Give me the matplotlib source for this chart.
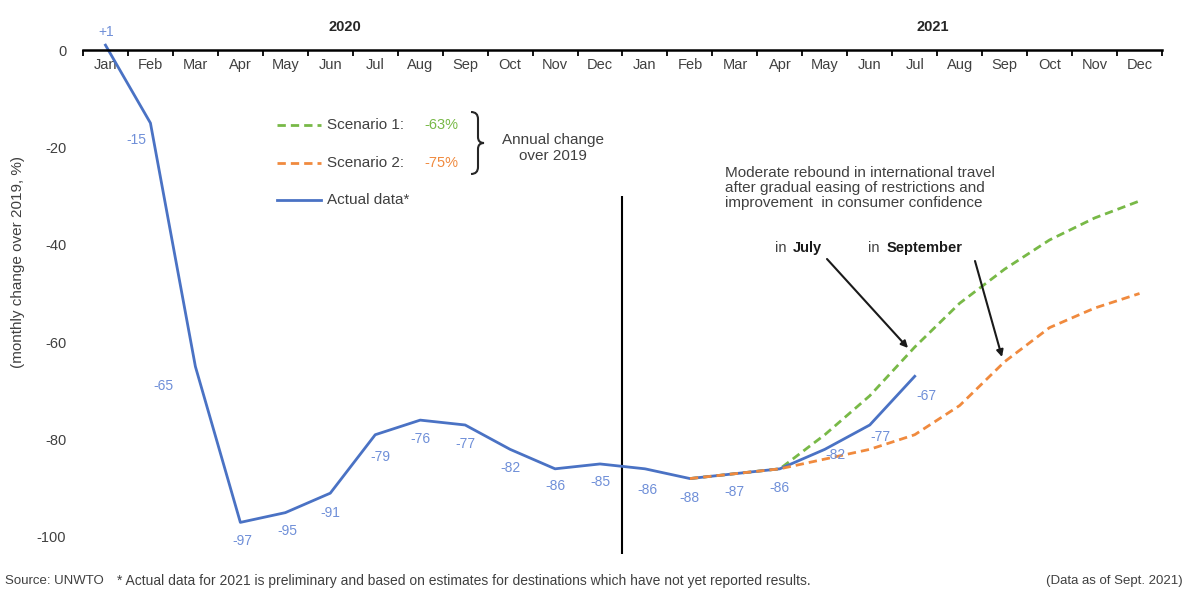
import matplotlib
matplotlib.use('Agg')
import matplotlib.pyplot as plt
import matplotlib.transforms as mtransforms
from matplotlib.path import Path
from matplotlib.patches import PathPatch
import numpy as np

plt.rcParams['font.family'] = ['Liberation Sans', 'DejaVu Sans']

# ---------------- data ----------------
months = ['Jan', 'Feb', 'Mar', 'Apr', 'May', 'Jun', 'Jul', 'Aug', 'Sep', 'Oct', 'Nov', 'Dec']
years = ['2020', '2021']
month_labels = months + months
actual = [1, -15, -65, -97, -95, -91, -79, -76, -77, -82, -86, -85,
          -86, -88, -87, -86, -82, -77, -67]
scenario_start = 13  # Feb 2021
scenario1 = [-88, -87, -86, -79, -71, -61, -52, -45, -39, -34.5, -31]
scenario2 = [-88, -87, -86, -84, -82, -79, -73, -64, -57, -53, -50]
scenario1_annual = '-63%'
scenario2_annual = '-75%'
yticks = [0, -20, -40, -60, -80, -100]

# label offsets (pixels) for the data labels
label_offsets = [(1, 13), (-14, -17), (-32, -19), (2, -19), (2, -18), (0, -20),
                 (5, -22), (0, -19), (0, -19), (0, -19), (0, -17), (0, -18),
                 (2, -21), (0, -19), (0, -18), (0, -19), (11, -6), (11, -12), (12, -20)]

W, H = 1186, 595
fig = plt.figure(figsize=(W / 100, H / 100), dpi=100)
pix = mtransforms.Affine2D().scale(1 / W, -1 / H).translate(0, 1) + fig.transFigure

y_top, y_bot = 3, -105
ppu = 4.87
top_px = 50 - ppu * y_top
bot_px = 50 - ppu * y_bot
ax = fig.add_axes([83 / W, 1 - bot_px / H, (1162 - 83) / W, (bot_px - top_px) / H])
ax.set_xlim(-0.5, 23.5)
ax.set_ylim(y_bot, y_top)

txt_col = '#404040'
blue = '#4A72C4'
blue_lab = '#6F8FD8'
green = '#78B947'
orange = '#F08A3E'

for s in ['top', 'right', 'left']:
    ax.spines[s].set_visible(False)
ax.spines['bottom'].set_position(('data', 0))
ax.spines['bottom'].set_linewidth(1.8)
ax.spines['bottom'].set_zorder(6)

ax.set_xticks(np.arange(-0.5, 24, 1))
ax.set_xticklabels([])
ax.tick_params(axis='x', which='major', direction='out', length=4, width=1.3, color='black')
ax.set_xticks(np.arange(24), minor=True)
ax.set_xticklabels(month_labels, minor=True)
ax.tick_params(axis='x', which='minor', length=0, pad=6, labelsize=10.5, labelcolor=txt_col)

ax.set_yticks(yticks)
ax.set_yticklabels([str(v) for v in yticks])
ax.tick_params(axis='y', length=0, pad=12, labelsize=10.5, labelcolor=txt_col)

# lines
xa = np.arange(len(actual))
ax.plot(xa, actual, color=blue, lw=2.0, zorder=4, clip_on=False)
xs = np.arange(scenario_start, scenario_start + len(scenario1))
ax.plot(xs, scenario1, color=green, lw=2.0, ls=(0, (3, 1.8)), zorder=3)
ax.plot(xs, scenario2, color=orange, lw=2.0, ls=(0, (3, 1.8)), zorder=5)

for i, v in enumerate(actual):
    lab = ('+%d' % v) if v > 0 else str(v)
    dx, dy = label_offsets[i]
    ax.annotate(lab, (i, v), xytext=(dx, dy), textcoords='offset pixels',
                ha='center', va='center', fontsize=10, color=blue_lab, zorder=7)

# divider between years
ax.vlines(11.5, -103.5, -30, color='black', lw=1.5, zorder=2)

# year labels
fig.text(345, 27, years[0], transform=pix, ha='center', va='center', fontsize=10.5,
         fontweight='bold', color='#262626')
fig.text(933, 27, years[1], transform=pix, ha='center', va='center', fontsize=10.5,
         fontweight='bold', color='#262626')

# y label
fig.text(18, 262, '(monthly change over 2019, %)', transform=pix, rotation=90,
         ha='center', va='center', fontsize=11, color=txt_col)

# legend (manual)
def legend_line(y, color, ls):
    fig.add_artist(plt.Line2D([277, 321], [y, y], transform=pix, color=color, lw=2.0, ls=ls))

legend_line(125, green, (0, (3, 1.8)))
legend_line(163, orange, (0, (3, 1.8)))
legend_line(200, blue, '-')
fig.text(327, 125, 'Scenario 1:', transform=pix, ha='left', va='center', fontsize=11, color=txt_col)
fig.text(424, 125, scenario1_annual, transform=pix, ha='left', va='center', fontsize=10.5, color=green)
fig.text(327, 163, 'Scenario 2:', transform=pix, ha='left', va='center', fontsize=11, color=txt_col)
fig.text(424, 163, scenario2_annual, transform=pix, ha='left', va='center', fontsize=10.5, color=orange)
fig.text(327, 200, 'Actual data*', transform=pix, ha='left', va='center', fontsize=11, color=txt_col)

# brace
verts = [(471, 112), (478, 112), (478, 119),
         (478, 137),
         (478, 143), (484, 143),
         (478, 143), (478, 149),
         (478, 167),
         (478, 174), (471, 174)]
codes = [Path.MOVETO, Path.CURVE3, Path.CURVE3,
         Path.LINETO,
         Path.CURVE3, Path.CURVE3,
         Path.CURVE3, Path.CURVE3,
         Path.LINETO,
         Path.CURVE3, Path.CURVE3]
fig.add_artist(PathPatch(Path(verts, codes), transform=pix, fill=False, lw=1.5, edgecolor='#262626'))
fig.text(553, 148, 'Annual change\nover 2019', transform=pix, ha='center', va='center',
         fontsize=11, color=txt_col, linespacing=1.12)

# annotation
fig.text(725, 166, 'Moderate rebound in international travel\nafter gradual easing of restrictions and\nimprovement  in consumer confidence',
         transform=pix, ha='left', va='top', fontsize=11, color=txt_col, linespacing=1.1)
fig.text(775, 248, 'in', transform=pix, ha='left', va='center', fontsize=10.5, color=txt_col)
fig.text(793, 248, 'July', transform=pix, ha='left', va='center', fontsize=10.5, color='#1a1a1a', fontweight='bold')
fig.text(868, 248, 'in', transform=pix, ha='left', va='center', fontsize=10.5, color=txt_col)
fig.text(887, 248, 'September', transform=pix, ha='left', va='center', fontsize=10.5, color='#1a1a1a', fontweight='bold')

arrow = dict(arrowstyle='-|>', color='#1a1a1a', lw=1.5, mutation_scale=10, shrinkA=0, shrinkB=0)
ax.annotate('', xy=(908, 348), xycoords=pix, xytext=(827, 259), textcoords=pix, arrowprops=arrow)
ax.annotate('', xy=(1002, 357), xycoords=pix, xytext=(975, 261), textcoords=pix, arrowprops=arrow)

# footer
fig.text(5, 581, 'Source: UNWTO', transform=pix, ha='left', va='center', fontsize=9.5, color=txt_col)
fig.text(117, 581, '* Actual data for 2021 is preliminary and based on estimates for destinations which have not yet reported results.',
         transform=pix, ha='left', va='center', fontsize=10, color=txt_col)
fig.text(1183, 581, '(Data as of Sept. 2021)', transform=pix, ha='right', va='center', fontsize=9.5, color=txt_col)

fig.savefig('out.png', dpi=100, facecolor='white')
